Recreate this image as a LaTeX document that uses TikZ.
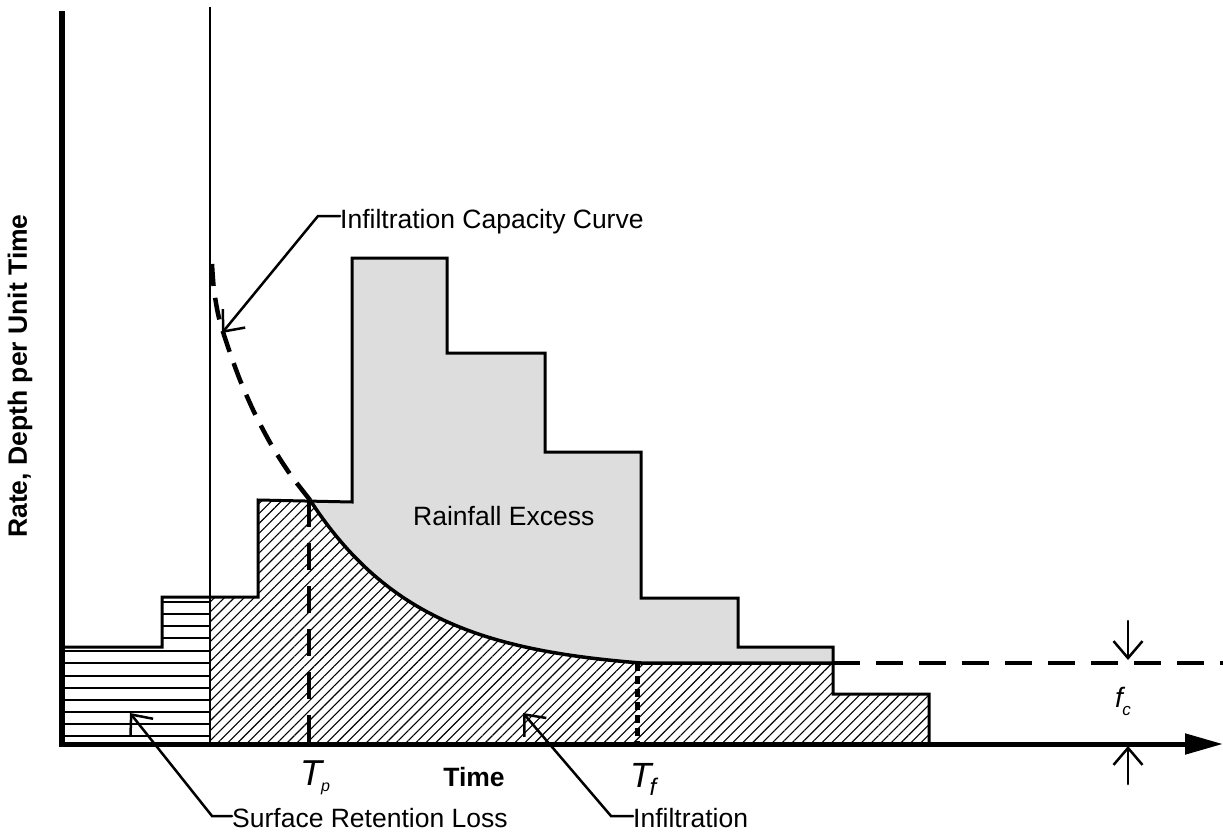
\documentclass[tikz,border=0pt]{standalone}
\usepackage{fontspec}
\setmainfont{Liberation Sans}
\usetikzlibrary{arrows.meta,patterns.meta}
\definecolor{excess}{RGB}{221,221,221}
\begin{document}
\begin{tikzpicture}[x=1pt,y=-1pt,
  lbl/.style={font=\fontsize{26.5}{30}\selectfont, inner sep=0pt},
  blbl/.style={font=\fontsize{26.5}{30}\selectfont\bfseries, inner sep=0pt},
  leader/.style={line width=2.5pt, line cap=round, -{Straight Barb[length=17pt,width=29pt]}},
  outline/.style={line width=3pt, line join=miter},
  axis/.style={line width=5pt},
  longdash/.style={line width=4.5pt, dash pattern=on 27pt off 16pt},
  shortdash/.style={line width=5pt, dash pattern=on 8pt off 5pt},
  capdash/.style={line width=4.5pt, dash pattern=on 22pt off 12pt}]
\useasboundingbox (0,0) rectangle (1223,832);

% gray rainfall excess
\fill[excess] (310,500) -- (352,502) -- (352,258) -- (447,258) -- (447,353) -- (545,353)
  -- (545,452) -- (641,452) -- (641,598) -- (738,598) -- (738,647) -- (833,647)
  -- (833,663) -- (641,663)
  -- plot[domain=641:310,samples=80] (\x,{663-163*(exp(-0.009*(\x-310))-0.0508)/0.9492}) -- cycle;

% hatched infiltration
\fill[pattern={Lines[angle=45,distance=7pt,line width=1.1pt]}] (210,744) -- (210,597) -- (258,597) -- (258,500) -- (310,500)
  -- plot[domain=310:641,samples=80] (\x,{663-163*(exp(-0.009*(\x-310))-0.0508)/0.9492})
  -- (833,663) -- (833,694) -- (929,694) -- (929,744) -- cycle;

% surface retention horizontal lines
\foreach \yy in {602,614,626,638} \draw[line width=2.5pt] (162,\yy) -- (210,\yy);
\foreach \yy in {651,663,676,688,700,712,724,736} \draw[line width=2.5pt] (62,\yy) -- (210,\yy);

% hyetograph outline
\draw[outline] (62,647) -- (162,647) -- (162,597) -- (258,597) -- (258,500) -- (352,502)
  -- (352,258) -- (447,258) -- (447,353) -- (545,353) -- (545,452) -- (641,452)
  -- (641,598) -- (738,598) -- (738,647) -- (833,647) -- (833,694) -- (929,694) -- (929,744);

% infiltration capacity curve
\draw[line width=3.5pt] plot[domain=310:641,samples=80] (\x,{663-163*(exp(-0.009*(\x-310))-0.0508)/0.9492}) -- (833,663);
\draw[capdash] plot[smooth] coordinates {(212,264) (214,290) (219,318) (228,347) (240,380) (255,414) (272,446) (290,474) (310,500)};
\draw[longdash] (833,663) -- (1223,663);

% Tp and Tf markers
\coordinate (tpTop) at (309,500);
\coordinate (tpBot) at (309,744);
\draw[longdash] (tpTop) -- (tpBot);
\coordinate (tfTop) at (637,663);
\coordinate (tfBot) at (637,744);
\draw[shortdash] (tfTop) -- (tfBot);

% thin vertical line
\draw[line width=2.5pt] (210,7) -- (210,744);

% axes
\coordinate (origin) at (62,744);
\draw[line width=5.5pt] (62,11) -- (62,747);
\draw[axis, -{Triangle[length=38pt,width=20pt]}] (59,744) -- (1223,744);

% labels
\node[lbl, anchor=base west] (capLabel) at (340,228) {Infiltration Capacity Curve};
\node[lbl, anchor=base west] (srlLabel) at (232,827) {Surface Retention Loss};
\node[lbl, anchor=base west] (infLabel) at (633,827) {Infiltration};
\node[lbl, anchor=base west] (rexLabel) at (413,525) {Rainfall Excess};
\node[blbl, anchor=base] (timeLabel) at (474,786) {Time};
\node[blbl, rotate=90] (yLabel) at (20,376) {Rate, Depth per Unit Time};
\node[inner sep=0pt, anchor=base west] (tpLabel) at (300,785)
  {\fontsize{36}{36}\selectfont\itshape T\kern-1pt\fontsize{16}{16}\selectfont\raisebox{-6.5pt}{p}};
\node[inner sep=0pt, anchor=base west] (tfLabel) at (630,787)
  {\fontsize{35}{35}\selectfont\itshape T\kern-2pt\fontsize{24}{24}\selectfont\raisebox{-8pt}{f}};
\node[inner sep=0pt, anchor=base west] (fcLabel) at (1115,707)
  {\fontsize{28}{28}\selectfont\itshape f\kern-0.5pt\fontsize{17}{17}\selectfont\raisebox{-8pt}{c}};

% leaders
\coordinate (capTip) at (222,333);
\coordinate (srlTip) at (130,713);
\coordinate (infTip) at (523,713);
\draw[leader] (capLabel.west |- 0,216) -- ++(-22,0) -- (capTip);
\draw[leader] (srlLabel.west |- 0,816) -- ++(-20,0) -- (srlTip);
\draw[leader] (infLabel.west |- 0,816) -- ++(-22,0) -- (infTip);

% fc dimension arrows
\coordinate (fcTop) at (1128,660);
\coordinate (fcBot) at (1128,746);
\coordinate (fcTopStart) at (1128,621);
\coordinate (fcBotStart) at (1128,784);
\draw[leader] (fcTopStart) -- (fcTop);
\draw[leader] (fcBotStart) -- (fcBot);
\end{tikzpicture}
\end{document}
